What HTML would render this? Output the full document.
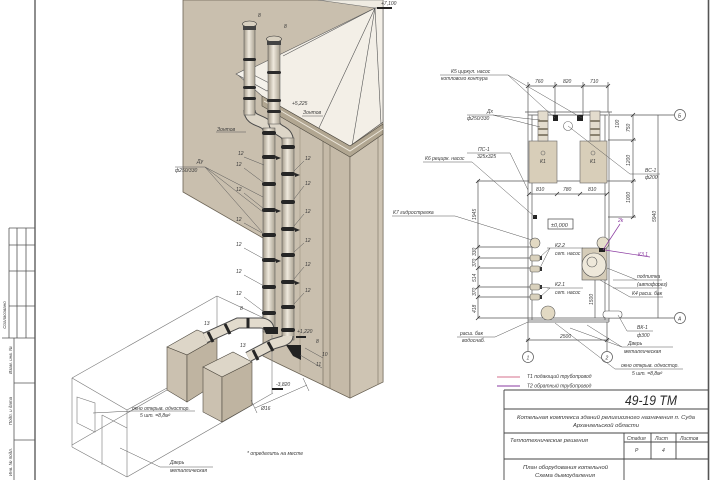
<!DOCTYPE html>
<html><head><meta charset="utf-8">
<style>
html,body{margin:0;padding:0;background:#fff;}
svg{display:block;}
text{font-family:"Liberation Sans",sans-serif;font-style:italic;fill:#3a3a3a;}
</style></head><body>
<svg width="720" height="480" viewBox="0 0 720 480" xmlns="http://www.w3.org/2000/svg">
<defs>
<linearGradient id="pv" x1="0" x2="1" y1="0" y2="0">
<stop offset="0" stop-color="#a39a8a"/><stop offset="0.45" stop-color="#efe9dd"/><stop offset="1" stop-color="#aaa292"/>
</linearGradient>
</defs>
<rect width="720" height="480" fill="#fff"/>

<!-- frame -->
<line x1="35" y1="0" x2="35" y2="480" stroke="#444" stroke-width="1.2"/>
<line x1="708.5" y1="0" x2="708.5" y2="480" stroke="#555" stroke-width="1.6"/>

<!-- left stamp -->
<g stroke="#555" stroke-width="0.8" fill="none">
<line x1="9" y1="228" x2="35" y2="228"/><line x1="9" y1="245" x2="35" y2="245"/>
<line x1="9" y1="271" x2="35" y2="271"/><line x1="9" y1="306" x2="35" y2="306"/>
<line x1="2" y1="338" x2="35" y2="338"/>
<line x1="9" y1="228" x2="9" y2="338"/><line x1="17" y1="228" x2="17" y2="338"/><line x1="26" y1="228" x2="26" y2="338"/>
<line x1="14" y1="338" x2="14" y2="480"/>
<line x1="14" y1="383" x2="35" y2="383"/><line x1="14" y1="440" x2="35" y2="440"/>
</g>
<text font-size="4.5" transform="rotate(-90 6 315)" x="6" y="315" text-anchor="middle">Согласовано</text>
<text font-size="4.5" transform="rotate(-90 12 360)" x="12" y="360" text-anchor="middle">Взам. инв. №</text>
<text font-size="4.5" transform="rotate(-90 12 411)" x="12" y="411" text-anchor="middle">Подп. и дата</text>
<text font-size="4.5" transform="rotate(-90 12 462)" x="12" y="462" text-anchor="middle">Инв. № подл.</text>

<!-- building -->
<polygon points="183,0 383,0 383,382 350,398 277,363 263,356 263,238 183,192" fill="#c9bfae" stroke="#6b6355" stroke-width="0.8"/>
<polygon points="323,136 350,152 350,398 323,385" fill="#c5baa8" stroke="#6b6355" stroke-width="0.6"/>
<polygon points="350,152 383,132 383,382 350,398" fill="#cec4b3" stroke="#6b6355" stroke-width="0.6"/>
<line x1="330" y1="140" x2="330" y2="388" stroke="#7a715f" stroke-width="0.6"/>
<line x1="378" y1="135" x2="378" y2="384" stroke="#7a715f" stroke-width="0.6"/>
<line x1="300" y1="120" x2="300" y2="372" stroke="#8a806d" stroke-width="0.4"/>

<!-- roof -->
<polygon points="318,0 383,0 383,8 375,8" fill="#efebe2" stroke="#666" stroke-width="0.5"/>
<polygon points="238,75 375,8 383,8 383,122 350,146 262,96" fill="#f3efe7" stroke="#555" stroke-width="0.6"/>
<g stroke="#555" stroke-width="0.6">
<line x1="375" y1="8" x2="283" y2="56"/>
<line x1="375" y1="8" x2="318" y2="130"/>
<line x1="375" y1="8" x2="352" y2="146"/>
<line x1="375" y1="8" x2="381" y2="124"/>
</g>
<polygon points="262,96 350,146 383,124 383,134 350,157 262,106" fill="#b1a691" stroke="#4f4a40" stroke-width="0.6"/>
<polyline points="264,101 350,151 383,129" fill="none" stroke="#ece6da" stroke-width="1"/>
<polygon points="236,74 244,70 275,86 267,91" fill="#f5f2eb" stroke="#555" stroke-width="0.6"/>
<rect x="377" y="7" width="15" height="2" fill="#222"/>
<text font-size="5" x="381" y="5">+7,100</text>

<!-- wireframe boiler room -->
<g stroke="#777" stroke-width="0.6" fill="none">
<line x1="72" y1="378" x2="217" y2="296"/>
<line x1="217" y1="296" x2="268" y2="320"/>
<line x1="72" y1="378" x2="127" y2="410"/>
<line x1="127" y1="410" x2="167" y2="388"/>
<line x1="72" y1="378" x2="72" y2="447"/>
<line x1="127" y1="410" x2="127" y2="477"/>
<line x1="72" y1="447" x2="127" y2="477"/>
<line x1="127" y1="477" x2="273" y2="393"/>
<line x1="72" y1="445" x2="167" y2="390"/>
<line x1="217" y1="296" x2="217" y2="338"/>
<line x1="272" y1="335" x2="272" y2="393"/>
<polygon points="77,397 95,403 95,432 77,423"/>
<line x1="102" y1="415" x2="102" y2="465"/>
<line x1="102" y1="415" x2="127" y2="428"/>
</g>

<!-- boilers -->
<g stroke="#4f4a40" stroke-width="0.6">
<polygon points="167,347 197,330 217,338 187,355" fill="#ddd6c8"/>
<polygon points="167,347 187,355 187,402 167,390" fill="#cbc1b0"/>
<polygon points="187,355 217,338 217,383 187,402" fill="#bfb4a1"/>
<polygon points="203,367 233,352 252,362 222,377" fill="#ddd6c8"/>
<polygon points="203,367 222,377 222,422 203,412" fill="#cbc1b0"/>
<polygon points="222,377 252,362 252,405 222,422" fill="#bfb4a1"/>
</g>

<!-- pipes upper -->
<g>
<path d="M249.5,110 C249.5,124 269,118 269,132" fill="none" stroke="#4a4a4a" stroke-width="12"/>
<path d="M249.5,110 C249.5,124 269,118 269,132" fill="none" stroke="#ddd6c8" stroke-width="10"/>
<rect x="244" y="25" width="11" height="90" fill="url(#pv)" stroke="#4a4a4a" stroke-width="0.5"/>
<ellipse cx="249.5" cy="24" rx="7" ry="3" fill="#d9d1c1" stroke="#333" stroke-width="0.6"/>
<rect x="243" y="26" width="13" height="4" fill="#444"/>
<rect x="243" y="58" width="13" height="3" rx="1.5" fill="#2b2b2b"/>
<rect x="243" y="86" width="13" height="3" rx="1.5" fill="#2b2b2b"/>
<rect x="243" y="97" width="13" height="3" rx="1.5" fill="#2b2b2b"/>

<path d="M274,120 C274,134 288,128 288,142" fill="none" stroke="#4a4a4a" stroke-width="12"/>
<path d="M274,120 C274,134 288,128 288,142" fill="none" stroke="#ddd6c8" stroke-width="10"/>
<rect x="268" y="40" width="12" height="84" fill="url(#pv)" stroke="#4a4a4a" stroke-width="0.5"/>
<ellipse cx="274" cy="39" rx="7.5" ry="3" fill="#d9d1c1" stroke="#333" stroke-width="0.6"/>
<rect x="267" y="41" width="14" height="4" fill="#444"/>
<rect x="267" y="71" width="14" height="3" rx="1.5" fill="#2b2b2b"/>
<rect x="267" y="99" width="14" height="3" rx="1.5" fill="#2b2b2b"/>
<rect x="267" y="110" width="14" height="3" rx="1.5" fill="#2b2b2b"/>

<!-- lower vertical pipes -->
<rect x="263" y="128" width="12" height="204" fill="url(#pv)" stroke="#4a4a4a" stroke-width="0.5"/>
<rect x="282" y="138" width="12" height="202" fill="url(#pv)" stroke="#4a4a4a" stroke-width="0.5"/>
<g fill="#262626">
<rect x="262" y="131" width="14" height="4" rx="2"/><rect x="262" y="155" width="14" height="4" rx="2"/>
<rect x="262" y="182" width="14" height="4" rx="2"/><rect x="262" y="208" width="14" height="4" rx="2"/>
<rect x="262" y="233" width="14" height="4" rx="2"/><rect x="262" y="258" width="14" height="4" rx="2"/>
<rect x="262" y="285" width="14" height="4" rx="2"/><rect x="262" y="311" width="14" height="4" rx="2"/>
<rect x="281" y="145" width="14" height="4" rx="2"/><rect x="281" y="172" width="14" height="4" rx="2"/>
<rect x="281" y="200" width="14" height="4" rx="2"/><rect x="281" y="227" width="14" height="4" rx="2"/>
<rect x="281" y="253" width="14" height="4" rx="2"/><rect x="281" y="280" width="14" height="4" rx="2"/>
<rect x="281" y="305" width="14" height="4" rx="2"/><rect x="281" y="328" width="14" height="4" rx="2"/>
<polygon points="276,156 281,158 276,160"/><polygon points="276,209 281,211 276,213"/>
<polygon points="276,259 281,261 276,263"/><polygon points="295,173 300,175 295,177"/>
<polygon points="295,228 300,230 295,232"/><polygon points="295,281 300,283 295,285"/>
</g>

<!-- horizontal lower pipes -->
<path d="M205,338 L238,323 L260,323 Q269,323 269,330" fill="none" stroke="#4a4a4a" stroke-width="11"/>
<path d="M205,338 L238,323 L260,323 Q269,323 269,330" fill="none" stroke="#e2dbcd" stroke-width="9"/>
<path d="M248,357 L273,344 L283,341 Q288,339 288,336" fill="none" stroke="#4a4a4a" stroke-width="11"/>
<path d="M248,357 L273,344 L283,341 Q288,339 288,336" fill="none" stroke="#e2dbcd" stroke-width="9"/>
<g stroke="#262626" stroke-width="3">
<line x1="208" y1="332" x2="213" y2="342"/>
<line x1="225" y1="324" x2="230" y2="334"/>
<line x1="248" y1="318" x2="248" y2="328"/>
<line x1="253" y1="350" x2="258" y2="360"/>
<line x1="268" y1="342" x2="273" y2="351"/>
</g>
<polygon points="263,327 278,327 278,334 266,334" fill="#222"/>
<polygon points="286,345 301,345 301,360 293,356" fill="#222"/>
<rect x="296" y="336" width="10" height="2" fill="#222"/>
</g>

<!-- iso labels -->
<g font-size="5">
<text x="197" y="163">Ду</text>
<text x="175" y="172">ф250/330</text>
<text x="217" y="131">Зонтов</text>
<text x="303" y="114">Зонтов</text>
<text x="292" y="105">+5,225</text>
<text x="258" y="17">8</text><text x="284" y="28">8</text>
<text x="238" y="155">12</text><text x="236" y="166">12</text><text x="236" y="191">12</text>
<text x="236" y="221">12</text><text x="236" y="246">12</text><text x="236" y="273">12</text><text x="236" y="295">12</text>
<text x="305" y="160">12</text><text x="305" y="185">12</text><text x="305" y="213">12</text>
<text x="305" y="242">12</text><text x="305" y="266">12</text><text x="305" y="292">12</text>
<text x="204" y="325">13</text><text x="240" y="310">8</text><text x="240" y="347">13</text>
<text x="316" y="343">8</text><text x="322" y="356">10</text><text x="316" y="366">11</text>
<text x="297" y="333">+1,220</text>
<text x="276" y="386">-3,820</text>
<text x="261" y="410">Ø16</text>
<text x="132" y="410">окно открыв. одностор.</text>
<text x="140" y="417">5 шт. =8,8м²</text>
<text x="170" y="464">Дверь</text>
<text x="170" y="472">металлическая</text>
<text x="247" y="455">* определить на месте</text>
</g>
<g stroke="#555" stroke-width="0.5" fill="none">
<line x1="175" y1="167" x2="205" y2="167"/>
<line x1="205" y1="167" x2="263" y2="197"/><line x1="205" y1="167" x2="263" y2="212"/><line x1="205" y1="167" x2="262" y2="232"/>
<line x1="244" y1="157" x2="264" y2="165"/><line x1="244" y1="168" x2="264" y2="183"/><line x1="244" y1="193" x2="264" y2="209"/>
<line x1="244" y1="223" x2="264" y2="234"/><line x1="244" y1="248" x2="264" y2="259"/><line x1="244" y1="275" x2="264" y2="286"/>
<line x1="244" y1="297" x2="264" y2="312"/>
<line x1="304" y1="161" x2="294" y2="171"/><line x1="304" y1="186" x2="294" y2="199"/><line x1="304" y1="214" x2="294" y2="226"/>
<line x1="304" y1="243" x2="294" y2="252"/><line x1="304" y1="267" x2="294" y2="279"/><line x1="304" y1="293" x2="294" y2="304"/>
<line x1="216" y1="132" x2="246" y2="132"/><line x1="302" y1="116" x2="323" y2="116"/>
<line x1="93" y1="413" x2="132" y2="411"/><line x1="132" y1="411" x2="195" y2="411"/>
<line x1="120" y1="448" x2="160" y2="467"/><line x1="160" y1="467" x2="213" y2="467"/>
<line x1="255" y1="408" x2="307" y2="385"/><line x1="251" y1="400" x2="257" y2="413"/><line x1="303" y1="378" x2="309" y2="391"/>
<line x1="305" y1="348" x2="323" y2="358"/><line x1="300" y1="355" x2="322" y2="368"/>
</g>
<rect x="272" y="388" width="11" height="2" fill="#222"/>

<!-- plan: room -->
<g stroke="#555" stroke-width="0.7" fill="none">
<line x1="525" y1="112" x2="612" y2="112"/><line x1="528" y1="115" x2="608" y2="115"/>
<line x1="528" y1="112" x2="528" y2="322"/><line x1="532" y1="115" x2="532" y2="320"/>
<line x1="605" y1="115" x2="605" y2="320"/><line x1="609" y1="112" x2="609" y2="322"/>
<line x1="528" y1="320" x2="609" y2="320"/><line x1="528" y1="322" x2="609" y2="322"/>
<!-- top dims -->
<line x1="528" y1="86" x2="608" y2="86"/>
<line x1="528" y1="82" x2="528" y2="112"/><line x1="555" y1="82" x2="555" y2="116"/>
<line x1="583" y1="82" x2="583" y2="116"/><line x1="608" y1="82" x2="608" y2="112"/>
<!-- axis B -->
<line x1="609" y1="115" x2="674" y2="115"/>
<circle cx="680" cy="115" r="5.5"/>
<!-- right dims -->
<line x1="633" y1="115" x2="633" y2="218"/>
<line x1="658" y1="115" x2="658" y2="318"/>
<line x1="608" y1="140" x2="636" y2="140"/>
<line x1="477" y1="181" x2="636" y2="181"/>
<line x1="608" y1="217" x2="636" y2="217"/>
<line x1="529" y1="194" x2="607" y2="194"/>
<!-- left dims -->
<line x1="478" y1="181" x2="478" y2="318"/>
<line x1="478" y1="247" x2="532" y2="247"/><line x1="478" y1="258" x2="532" y2="258"/>
<line x1="478" y1="268" x2="532" y2="268"/><line x1="478" y1="287" x2="532" y2="287"/>
<line x1="478" y1="297" x2="532" y2="297"/>
<line x1="478" y1="318" x2="674" y2="318"/>
<circle cx="680" cy="318" r="5.5"/>
<line x1="595" y1="280" x2="595" y2="318"/>
<!-- bottom -->
<line x1="528" y1="322" x2="528" y2="351"/><line x1="607" y1="322" x2="607" y2="351"/>
<circle cx="528" cy="357" r="5.5"/><circle cx="607" cy="357" r="5.5"/>
<line x1="526" y1="340" x2="609" y2="340"/>
</g>
<g stroke="#333" stroke-width="0.8">
<line x1="526" y1="88" x2="530" y2="84"/><line x1="553" y1="88" x2="557" y2="84"/><line x1="581" y1="88" x2="585" y2="84"/><line x1="606" y1="88" x2="610" y2="84"/>
<line x1="631" y1="117" x2="635" y2="113"/><line x1="631" y1="142" x2="635" y2="138"/><line x1="631" y1="183" x2="635" y2="179"/><line x1="631" y1="219" x2="635" y2="215"/>
<line x1="476" y1="183" x2="480" y2="179"/><line x1="476" y1="249" x2="480" y2="245"/><line x1="476" y1="260" x2="480" y2="256"/>
<line x1="476" y1="270" x2="480" y2="266"/><line x1="476" y1="289" x2="480" y2="285"/><line x1="476" y1="299" x2="480" y2="295"/><line x1="476" y1="320" x2="480" y2="316"/>
<line x1="527" y1="196" x2="531" y2="192"/><line x1="555" y1="196" x2="559" y2="192"/><line x1="578" y1="196" x2="582" y2="192"/><line x1="605" y1="196" x2="609" y2="192"/>
<line x1="526" y1="342" x2="530" y2="338"/><line x1="605" y1="342" x2="609" y2="338"/>
</g>

<!-- plan boilers -->
<g stroke="#666" stroke-width="0.6">
<rect x="529" y="141" width="28" height="42" fill="#d8ceb9"/>
<rect x="580" y="141" width="27" height="42" fill="#d8ceb9"/>
<rect x="538" y="111" width="10" height="30" fill="#e3dccd"/>
<rect x="590" y="111" width="10" height="30" fill="#e3dccd"/>
<circle cx="543" cy="153" r="2" fill="none"/>
<circle cx="593" cy="153" r="2" fill="none"/>
<circle cx="568" cy="126" r="4.5" fill="#fff"/>
</g>
<g fill="#8a8270">
<rect x="538" y="120" width="10" height="2"/><rect x="538" y="128" width="10" height="2"/><rect x="538" y="134" width="10" height="2"/>
<rect x="590" y="120" width="10" height="2"/><rect x="590" y="128" width="10" height="2"/><rect x="590" y="134" width="10" height="2"/>
</g>
<rect x="553" y="115" width="5" height="6" fill="#222"/>
<rect x="577" y="115" width="6" height="6" fill="#222"/>
<rect x="533" y="215" width="4" height="4" fill="#222"/>

<!-- pumps / tanks -->
<g stroke="#555" stroke-width="0.6">
<circle cx="535" cy="243" r="5" fill="#e2d9c3"/>
<rect x="530" y="255" width="10" height="6" rx="2" fill="#d9d1bd"/>
<rect x="530" y="266" width="10" height="6" rx="2" fill="#d9d1bd"/>
<rect x="530" y="284" width="10" height="6" rx="2" fill="#d9d1bd"/>
<rect x="530" y="294" width="10" height="6" rx="2" fill="#d9d1bd"/>
<rect x="582" y="248" width="25" height="32" fill="#d5ccb8"/>
<circle cx="594" cy="265" r="12" fill="#eee8da"/>
<circle cx="592" cy="262" r="5" fill="none"/>
<circle cx="603" cy="243" r="6" fill="#e6dfcb"/>
<circle cx="548" cy="313" r="7" fill="#e2d9c3"/>
<rect x="603" y="311" width="19" height="7" rx="3" fill="#fff"/>
</g>
<rect x="599" y="248" width="6" height="4" fill="#222"/>
<rect x="548" y="219" width="25" height="10" fill="none" stroke="#444" stroke-width="0.7"/>
<g fill="#333">
<rect x="540" y="256" width="2" height="4"/><rect x="540" y="267" width="2" height="4"/><rect x="540" y="285" width="2" height="4"/><rect x="540" y="295" width="2" height="4"/>
</g>

<!-- plan leaders -->
<g stroke="#555" stroke-width="0.5" fill="none">
<line x1="440" y1="75" x2="508" y2="75"/><line x1="508" y1="75" x2="555" y2="118"/><line x1="508" y1="75" x2="582" y2="118"/>
<line x1="467" y1="115" x2="493" y2="115"/><line x1="493" y1="115" x2="540" y2="120"/><line x1="493" y1="115" x2="540" y2="127"/>
<line x1="467" y1="153" x2="510" y2="153"/><line x1="510" y1="153" x2="528" y2="190"/>
<line x1="423" y1="162" x2="472" y2="162"/><line x1="472" y1="162" x2="535" y2="217"/>
<line x1="392" y1="216" x2="455" y2="216"/><line x1="455" y1="216" x2="532" y2="240"/>
<line x1="568" y1="126" x2="630" y2="174"/><line x1="630" y1="174" x2="660" y2="174"/>
<line x1="547" y1="248" x2="583" y2="248"/><line x1="540" y1="257" x2="550" y2="248"/><line x1="540" y1="268" x2="550" y2="248"/>
<line x1="547" y1="288" x2="583" y2="288"/><line x1="540" y1="287" x2="550" y2="288"/><line x1="540" y1="297" x2="550" y2="288"/>
<line x1="607" y1="268" x2="637" y2="280"/><line x1="613" y1="280" x2="662" y2="280"/><line x1="613" y1="288" x2="662" y2="288"/>
<line x1="600" y1="280" x2="630" y2="297"/><line x1="630" y1="297" x2="663" y2="297"/>
<line x1="618" y1="315" x2="627" y2="331"/><line x1="627" y1="331" x2="653" y2="331"/>
<line x1="457" y1="337" x2="495" y2="337"/><line x1="495" y1="337" x2="528" y2="322"/>
<line x1="570" y1="328" x2="622" y2="347"/><line x1="587" y1="325" x2="622" y2="347"/><line x1="622" y1="347" x2="673" y2="347"/>
<line x1="555" y1="323" x2="615" y2="369"/><line x1="615" y1="369" x2="683" y2="369"/>
</g>
<g stroke="#8a3aa0" stroke-width="0.7" fill="none">
<line x1="620" y1="224" x2="603" y2="250"/>
<line x1="605" y1="250" x2="650" y2="257"/>
</g>

<!-- plan text -->
<g font-size="5">
<text x="451" y="73">К5 циркул. насос</text>
<text x="441" y="80">котлового контура</text>
<text x="535" y="83">760</text><text x="563" y="83">820</text><text x="590" y="83">710</text>
<text x="487" y="113">Дх</text><text x="467" y="120">ф250/330</text>
<text x="478" y="151">ПС-1</text><text x="477" y="158">325х325</text>
<text x="425" y="160">К6 рецирк. насос</text>
<text x="393" y="214">К7 гидрострелка</text>
<text x="645" y="172">ВС-1</text><text x="645" y="179">ф200</text>
<text x="536" y="191">810</text><text x="563" y="191">780</text><text x="588" y="191">810</text>
<text x="551" y="227" font-size="5.5">±0,000</text>
<text x="540" y="163">К1</text><text x="590" y="163">К1</text>
<text x="555" y="247">К2.2</text><text x="555" y="255">сет. насос</text>
<text x="555" y="286">К2.1</text><text x="555" y="294">сет. насос</text>
<text x="637" y="278">подпитка</text><text x="637" y="286">(автофорез)</text><text x="632" y="295">К4 расш. бак</text>
<text x="637" y="329">ВК-1</text><text x="637" y="337">ф300</text>
<text x="460" y="335">расш. бак</text><text x="462" y="342">водоснаб.</text>
<text x="560" y="338">2500</text>
<text x="628" y="345">Дверь</text><text x="624" y="353">металлическая</text>
<text x="621" y="367">окно открыв. одностор.</text><text x="632" y="375">5 шт. =8,8м²</text>
<text x="678" y="117.5" font-size="5" font-style="normal">Б</text>
<text x="678" y="320.5" font-size="5" font-style="normal">А</text>
<text x="526.5" y="359.5" font-size="5" font-style="normal">1</text>
<text x="605.5" y="359.5" font-size="5" font-style="normal">2</text>
<text x="618" y="222" fill="#8a3aa0" style="fill:#8a3aa0">2k</text>
<text x="638" y="256" style="fill:#8a3aa0">К3.1</text>
<text transform="rotate(-90 619 128)" x="619" y="128">100</text>
<text transform="rotate(-90 630 132)" x="630" y="132">750</text>
<text transform="rotate(-90 630 166)" x="630" y="166">1200</text>
<text transform="rotate(-90 630 203)" x="630" y="203">1000</text>
<text transform="rotate(-90 656 222)" x="656" y="222">5940</text>
<text transform="rotate(-90 476 220)" x="476" y="220">1945</text>
<text transform="rotate(-90 476 256)" x="476" y="256">330</text>
<text transform="rotate(-90 476 267)" x="476" y="267">370</text>
<text transform="rotate(-90 476 282)" x="476" y="282">514</text>
<text transform="rotate(-90 476 296)" x="476" y="296">370</text>
<text transform="rotate(-90 476 313)" x="476" y="313">418</text>
<text transform="rotate(-90 593 305)" x="593" y="305">1500</text>
</g>

<!-- legend -->
<line x1="497" y1="377" x2="520" y2="377" stroke="#d4708e" stroke-width="0.9"/>
<line x1="497" y1="386" x2="520" y2="386" stroke="#8a3aa0" stroke-width="0.9"/>
<text font-size="5" x="527" y="378">Т1 подающий трубопровод</text>
<text font-size="5" x="527" y="387.5">Т2 обратный трубопровод</text>

<!-- title block -->
<g stroke="#444" stroke-width="0.9" fill="none">
<line x1="504" y1="390" x2="708" y2="390"/>
<line x1="504" y1="390" x2="504" y2="480"/>
<line x1="504" y1="409" x2="708" y2="409"/>
<line x1="504" y1="433" x2="708" y2="433"/>
<line x1="504" y1="459" x2="708" y2="459"/>
<line x1="624" y1="433" x2="624" y2="480"/>
<line x1="651" y1="433" x2="651" y2="459"/>
<line x1="676" y1="433" x2="676" y2="459"/>
<line x1="624" y1="442" x2="708" y2="442"/>
</g>
<text x="625" y="405" font-size="14" textLength="52" lengthAdjust="spacingAndGlyphs" style="fill:#2a2a2a">49-19 ТМ</text>
<text x="517" y="419" font-size="5.3" textLength="178" lengthAdjust="spacingAndGlyphs">Котельная комплекса зданий религиозного назначения п. Суда</text>
<text x="573" y="427" font-size="5.3" textLength="66" lengthAdjust="spacingAndGlyphs">Архангельской области</text>
<text x="510" y="442" font-size="5.3" textLength="78" lengthAdjust="spacingAndGlyphs">Теплотехнические решения</text>
<text x="627" y="440" font-size="5">Стадия</text>
<text x="655" y="440" font-size="5">Лист</text>
<text x="680" y="440" font-size="5">Листов</text>
<text x="635" y="452" font-size="5">Р</text>
<text x="662" y="452" font-size="5">4</text>
<text x="523" y="469" font-size="5.3" textLength="85" lengthAdjust="spacingAndGlyphs">План оборудования котельной</text>
<text x="535" y="477" font-size="5.3" textLength="60" lengthAdjust="spacingAndGlyphs">Схема дымоудаления</text>
</svg>
</body></html>
